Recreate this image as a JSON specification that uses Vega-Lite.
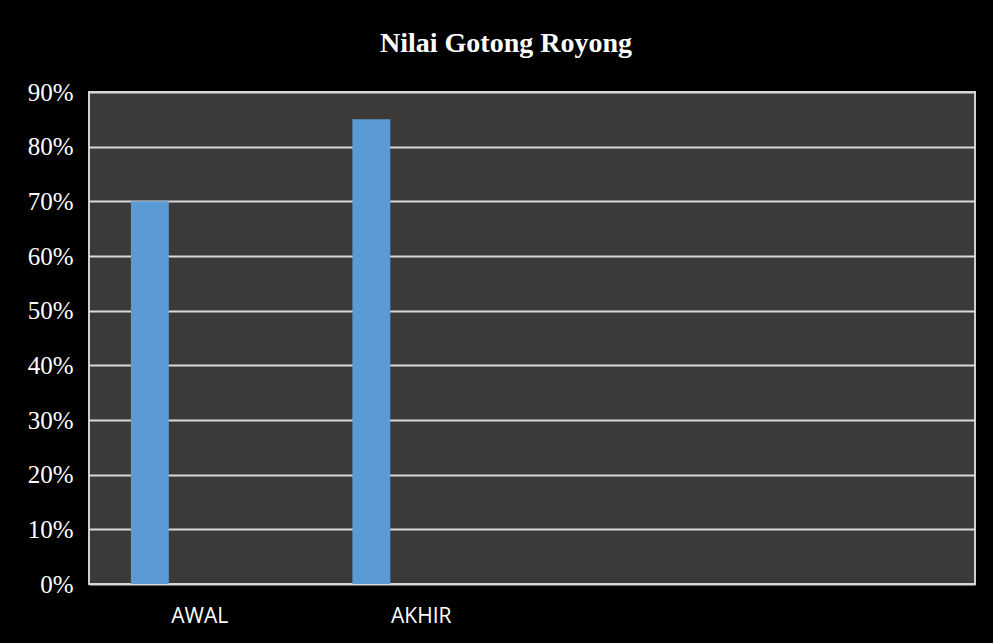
{
  "$schema": "https://vega.github.io/schema/vega-lite/v6.json",
  "autosize": "none",
  "width": 886,
  "height": 492,
  "padding": {"left": 89, "top": 92, "right": 18, "bottom": 59},
  "background": "#000000",
  "title": {
    "text": "Nilai Gotong Royong",
    "font": "Liberation Serif",
    "fontSize": 28,
    "fontWeight": "bold",
    "color": "#ffffff",
    "anchor": "middle",
    "frame": "group",
    "dx": -26,
    "baseline": "alphabetic",
    "offset": 0
  },
  "data": {
    "values": [
      {"kategori": "AWAL", "seri": "Nilai", "nilai": 0.70},
      {"kategori": "AKHIR", "seri": "Nilai", "nilai": 0.85}
    ]
  },
  "mark": {"type": "bar", "color": "#5b9bd5"},
  "encoding": {
    "x": {
      "field": "kategori",
      "type": "nominal",
      "sort": null,
      "scale": {"domain": ["AWAL", "AKHIR", " ", "  "], "paddingInner": 0, "paddingOuter": 0},
      "axis": {
        "title": null,
        "labelAngle": 0,
        "labelFont": "Open Sans",
        "labelFontSize": 21,
        "labelColor": "#ffffff",
        "labelPadding": 21,
        "ticks": false,
        "domain": false,
        "grid": false
      }
    },
    "xOffset": {
      "field": "seri",
      "type": "nominal",
      "scale": {"domain": ["Nilai", "S2", "S3"], "paddingInner": 0.24, "paddingOuter": 0.84}
    },
    "y": {
      "field": "nilai",
      "type": "quantitative",
      "scale": {"domain": [0, 0.9], "nice": false},
      "axis": {
        "title": null,
        "format": ".0%",
        "values": [0, 0.1, 0.2, 0.3, 0.4, 0.5, 0.6, 0.7, 0.8, 0.9],
        "labelFont": "Liberation Serif",
        "labelFontSize": 25,
        "labelColor": "#ffffff",
        "labelPadding": 16,
        "ticks": false,
        "domain": false,
        "grid": true,
        "gridColor": "#d9d9d9",
        "gridWidth": 2,
        "gridOpacity": 1
      }
    }
  },
  "config": {
    "view": {"fill": "#3b3a38", "stroke": "#cfcfcf", "strokeWidth": 2}
  }
}
